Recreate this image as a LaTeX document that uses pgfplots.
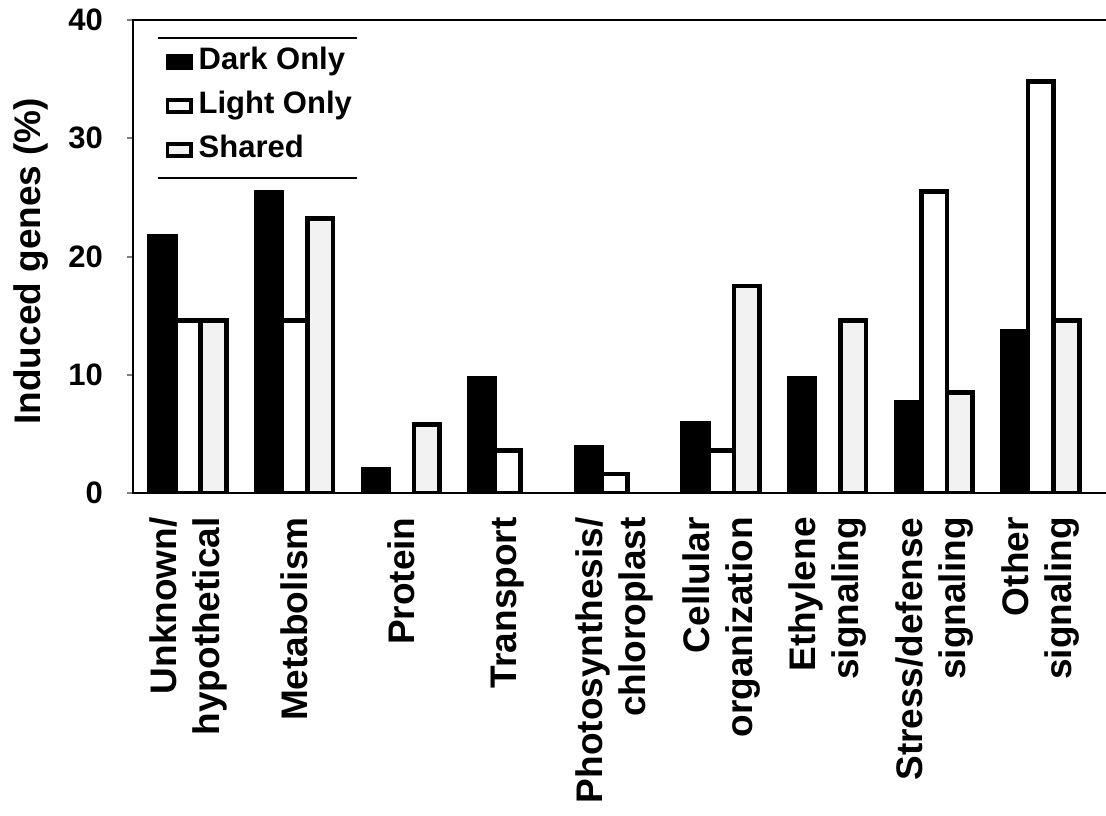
\documentclass[border=0pt]{standalone}
\usepackage{fontspec}
\setmainfont{Liberation Sans}
\usepackage{pgfplots}
\pgfplotsset{compat=1.18}

\pgfplotsset{
  legbox/.style={legend image code/.code={
    \draw[##1, line width=1.6pt] (0.8pt,-3pt) rectangle (12.7pt,3pt);}},
  barbase/.style={ybar, bar width=0.24, draw=black, line width=2.3pt, legbox},
}

\begin{document}
\begin{tikzpicture}
\path[use as bounding box] (-66.5pt,-161pt) rectangle (486.5pt,246.5pt);
\begin{axis}[
  at={(0,0)}, anchor=south west,
  scale only axis, width=488.5pt, height=236.5pt,
  xmin=-0.516, xmax=8.649, ymin=0, ymax=40,
  axis line style={line width=1.4pt},
  tick pos=left,
  tick align=outside,
  major tick length=3pt,
  ytick={0,10,20,30,40},
  ytick style={line width=1pt},
  xtick={0,1,2,3,4,5,6,7,8},
  xtick style={draw=none},
  xticklabels={{Unknown/\\hypothetical},{Metabolism},{Protein},{Transport},
    {Photosynthesis/\\chloroplast},{Cellular\\organization},{Ethylene\\signaling},
    {Stress/defense\\signaling},{Other\\signaling}},
  xticklabel style={rotate=90, anchor=east, align=right, inner xsep=9pt,
    font=\fontsize{18.5}{21.5}\selectfont\bfseries},
  /pgf/number format/assume math mode=true,
  yticklabel style={font=\fontsize{15.5}{17}\selectfont\bfseries, xshift=-8.5pt},
  ylabel={Induced genes (\%)},
  ylabel style={at={(axis description cs:-0.104,0.49)}, anchor=center,
    font=\fontsize{18.5}{21}\selectfont\bfseries},
  legend style={at={(axis description cs:0.033,0.945)}, anchor=north west,
    draw=none, fill=none, inner sep=0pt, row sep=6.5pt,
    font=\fontsize{15.5}{17}\selectfont\bfseries,
    nodes={inner sep=1pt, text height=10.5pt, text depth=3pt},
    /tikz/every odd column/.append style={column sep=2pt}},
  legend cell align=left,
]
% Dark only
\addplot[barbase, bar shift=-0.24, fill=black] coordinates {
  (0,21.7) (1,25.4) (2,2.0) (3,9.7) (4,3.9) (5,5.9) (6,9.7) (7,7.7) (8,13.7)};
\addlegendentry{Dark Only}
% Light only (no genes for Protein and Ethylene signaling)
\addplot[barbase, bar shift=0, fill=white] coordinates {
  (0,14.6) (1,14.6) (3,3.6) (4,1.6) (5,3.6) (7,25.5) (8,34.8)};
\addlegendentry{Light Only}
% Shared (no genes for Transport and Photosynthesis/chloroplast)
\addplot[barbase, bar shift=0.24, fill=black!5] coordinates {
  (0,14.6) (1,23.2) (2,5.8) (5,17.5) (6,14.6) (7,8.5) (8,14.6)};
\addlegendentry{Shared}
% rules above and below the legend
\draw[line width=1pt] (axis description cs:0.0256,0.962) -- (axis description cs:0.2293,0.962);
\draw[line width=1pt] (axis description cs:0.0256,0.666) -- (axis description cs:0.2293,0.666);
\end{axis}
\end{tikzpicture}
\end{document}
